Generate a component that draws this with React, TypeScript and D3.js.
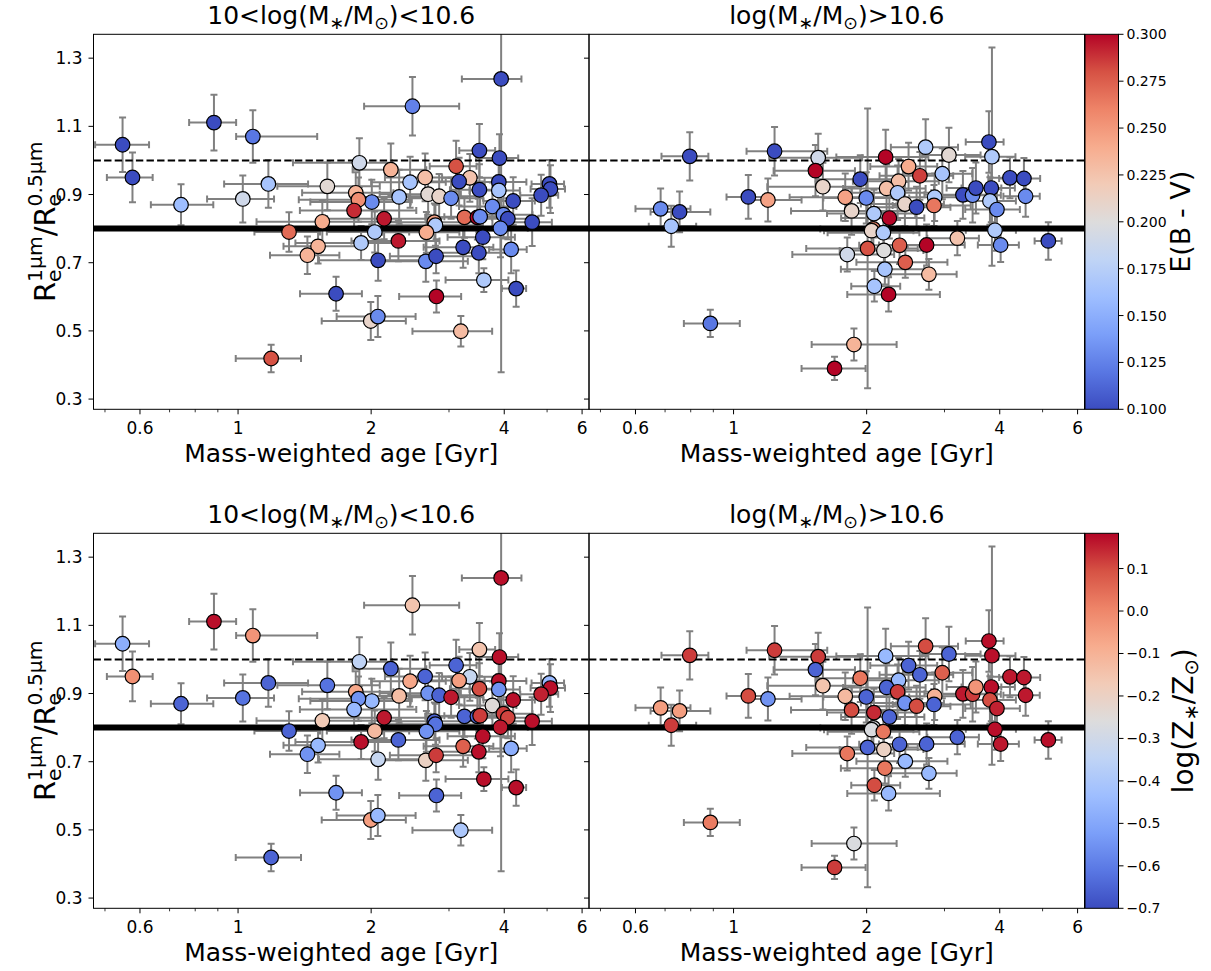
import React from 'react';
import * as d3 from 'd3';

// ---------- data: 10 < log M < 10.6 ----------
const leftAge = [0.548,0.577,0.743,0.882,1.080,1.025,1.171,1.592,1.551,1.304,1.517,1.435,1.666,1.188,2.480,3.936,3.515,3.902,1.881,2.216,3.113,3.344,3.162,2.649,2.450,3.889,3.515,3.889,5.062,5.089,4.848,4.191,3.761,2.691,2.850,3.033,2.314,2.007,1.846,1.872,1.830,2.140,3.251,3.478,3.528,3.984,4.076,4.626,2.780,2.795,2.038,2.667,3.922,1.898,2.305,3.578,3.229,3.504,4.147,2.074,2.659,2.805,3.597,4.256,2.810,1.996,2.071,3.191];
const leftAgeErrLo = [0.073,0.072,0.108,0.107,0.09,0.174,0.241,0.365,0.45,0.215,0.25,0.254,0.285,0.20,0.552,0.728,0.35,0.45,0.55,0.40,0.40,0.45,0.5,0.5,0.45,0.45,0.5,0.55,0.45,0.5,0.5,0.6,0.6,0.6,0.55,0.6,0.45,0.55,0.45,0.5,0.45,0.55,0.6,0.7,0.6,0.7,0.8,0.6,0.6,0.65,0.45,0.55,0.7,0.55,0.5,0.6,0.6,0.7,0.45,0.55,0.55,0.6,0.65,0.305,0.496,0.45,0.40,0.711];
const leftAgeErrHi = [0.081,0.064,0.136,0.108,0.43,0.181,0.269,0.50,0.78,0.228,0.37,0.26,0.24,0.20,0.683,0.439,0.30,0.40,0.35,0.45,0.35,0.50,0.45,0.6,0.5,0.6,0.4,0.45,0.4,0.4,0.45,0.5,0.5,0.5,0.6,0.55,0.5,0.45,0.4,0.6,0.7,0.65,0.5,0.6,0.6,0.65,0.7,0.5,0.7,0.75,0.4,0.5,0.6,0.45,0.55,0.65,0.55,0.6,0.35,0.6,0.65,0.7,0.49,0.227,0.386,0.40,0.45,0.565];
const leftRatio = [1.046,0.950,0.870,1.111,1.070,0.887,0.931,0.924,0.820,0.790,0.748,0.722,0.609,0.419,1.159,1.239,1.029,1.007,0.993,0.973,0.983,0.949,0.938,0.950,0.936,0.937,0.914,0.912,0.931,0.916,0.898,0.881,0.865,0.901,0.895,0.889,0.893,0.878,0.905,0.885,0.853,0.829,0.833,0.833,0.835,0.841,0.829,0.819,0.819,0.810,0.790,0.789,0.801,0.758,0.764,0.775,0.745,0.729,0.739,0.707,0.704,0.719,0.649,0.624,0.601,0.529,0.542,0.499];
const leftRatioErr = [0.08,0.073,0.06,0.082,0.077,0.069,0.07,0.07,0.062,0.058,0.05,0.055,0.05,0.04,0.086,0.86,0.078,0.07,0.072,0.077,0.075,0.07,0.07,0.07,0.075,0.07,0.075,0.08,0.07,0.07,0.06,0.07,0.07,0.06,0.065,0.06,0.08,0.065,0.06,0.065,0.055,0.06,0.06,0.065,0.06,0.07,0.06,0.07,0.055,0.06,0.06,0.06,0.085,0.05,0.06,0.065,0.06,0.06,0.07,0.06,0.06,0.05,0.035,0.053,0.047,0.056,0.06,0.045];
const leftEBV = [0.10,0.10,0.16,0.10,0.12,0.19,0.165,0.205,0.24,0.27,0.235,0.235,0.10,0.28,0.125,0.10,0.10,0.10,0.19,0.235,0.28,0.225,0.10,0.228,0.165,0.10,0.10,0.165,0.10,0.10,0.10,0.10,0.13,0.205,0.21,0.13,0.165,0.13,0.235,0.255,0.29,0.295,0.27,0.30,0.13,0.13,0.10,0.10,0.245,0.17,0.17,0.24,0.13,0.17,0.295,0.10,0.10,0.10,0.13,0.10,0.13,0.10,0.17,0.10,0.30,0.21,0.13,0.23];
const leftLogZ = [-0.48,-0.02,-0.65,0.17,-0.03,-0.62,-0.65,-0.62,-0.17,-0.65,-0.45,-0.55,-0.55,-0.65,-0.15,0.17,-0.15,0.17,-0.35,-0.65,-0.65,-0.33,-0.05,-0.65,-0.07,0.17,0.10,-0.55,-0.45,0.17,0.15,0.17,-0.25,-0.55,-0.65,0.16,-0.13,-0.45,-0.07,-0.55,-0.45,0.16,-0.65,-0.65,0.12,0.12,0.11,0.17,-0.65,-0.62,-0.12,-0.55,0.16,0.17,-0.65,0.17,0.07,0.17,-0.48,-0.33,-0.2,0.12,0.17,0.17,-0.65,-0.05,-0.45,-0.4];

// ---------- data: log M > 10.6 ----------
const rightAge = [0.796,1.238,1.554,1.532,1.592,1.080,1.196,0.684,0.755,0.723,0.886,1.692,1.872,2.719,3.070,3.781,3.841,2.208,2.488,2.639,2.966,1.935,2.362,2.219,2.350,1.789,1.996,2.850,3.302,3.473,3.533,3.828,4.219,4.537,4.577,3.801,3.942,1.849,2.441,2.594,2.840,2.077,2.251,2.071,2.052,2.182,3.902,3.208,4.019,5.152,2.010,2.374,2.733,2.188,1.808,2.446,2.199,2.766,2.082,2.242];
const rightAgeErrLo = [0.109,0.168,0.35,0.30,0.4,0.116,0.132,0.084,0.106,0.08,0.114,0.267,0.37,0.45,0.4,0.43,0.5,0.5,0.45,0.5,0.55,0.4,0.5,0.45,0.5,0.45,0.4,0.55,0.6,0.6,0.5,0.55,0.45,0.55,0.5,0.5,0.6,0.5,0.5,0.55,0.55,0.45,0.5,0.5,0.45,0.55,0.55,0.465,0.45,0.355,0.55,0.45,0.6,0.45,0.45,0.55,0.45,0.5,0.236,0.434];
const rightAgeErrHi = [0.081,0.391,0.40,0.35,0.35,0.132,0.229,0.115,0.131,0.10,0.147,0.297,0.466,0.5,0.55,0.30,0.5,0.55,0.4,0.5,0.5,0.45,0.55,0.5,0.45,0.55,0.5,0.6,0.5,0.55,0.5,0.5,0.35,0.4,0.35,0.55,0.5,0.6,0.55,0.5,0.6,0.5,0.45,0.55,0.5,0.45,0.45,0.381,0.4,0.369,0.6,0.45,0.6,0.5,0.5,0.6,0.5,0.43,0.3,0.687];
const rightRatio = [1.012,1.027,1.008,0.970,0.923,0.893,0.884,0.858,0.849,0.807,0.522,0.390,0.460,1.039,1.016,1.054,1.011,1.010,0.982,0.955,0.961,0.945,0.939,0.918,0.905,0.892,0.890,0.892,0.899,0.898,0.919,0.919,0.949,0.947,0.895,0.881,0.856,0.852,0.872,0.863,0.868,0.844,0.831,0.799,0.794,0.788,0.795,0.772,0.752,0.764,0.742,0.751,0.752,0.736,0.724,0.701,0.681,0.666,0.631,0.607];
const rightRatioErr = [0.071,0.071,0.07,0.075,0.07,0.064,0.063,0.06,0.06,0.06,0.04,0.034,0.047,0.082,0.08,0.09,0.32,0.08,0.07,0.07,0.075,0.07,0.065,0.07,0.08,0.07,0.075,0.07,0.07,0.08,0.075,0.1,0.06,0.06,0.06,0.07,0.06,0.07,0.065,0.06,0.06,0.07,0.06,0.06,0.055,0.06,0.06,0.05,0.05,0.055,0.41,0.055,0.06,0.06,0.05,0.045,0.045,0.045,0.045,0.05];
const rightEBV = [0.10,0.10,0.19,0.30,0.21,0.10,0.245,0.13,0.10,0.165,0.12,0.30,0.235,0.17,0.205,0.10,0.17,0.30,0.24,0.285,0.165,0.10,0.228,0.228,0.17,0.245,0.13,0.17,0.10,0.13,0.10,0.10,0.10,0.10,0.13,0.17,0.13,0.21,0.21,0.10,0.265,0.17,0.30,0.26,0.21,0.17,0.17,0.225,0.13,0.10,0.28,0.275,0.30,0.20,0.19,0.275,0.165,0.23,0.165,0.30];
const rightLogZ = [0.12,0.12,0.12,-0.65,-0.15,0.10,-0.55,-0.05,-0.05,0.12,0.02,0.12,-0.27,0.10,-0.65,0.17,0.17,-0.45,-0.65,-0.65,0.07,0.03,-0.45,-0.65,0.12,-0.12,-0.65,-0.1,0.16,0.12,-0.03,0.17,0.16,0.16,0.16,0.10,0.15,0.10,-0.55,0.10,-0.65,0.14,-0.65,-0.27,-0.27,0.03,0.17,-0.65,0.16,0.17,-0.65,-0.65,-0.65,-0.2,0.03,-0.45,0.03,-0.45,0.10,-0.45];

// ---------- ticks / references ----------
const xTicksLabeled = [0.6, 1, 2, 4, 6];
const xTicksMinor = [0.5, 0.7, 0.8, 0.9, 3, 5];
const yTicks = [0.3, 0.5, 0.7, 0.9, 1.1, 1.3];
const ebvTicks = [0.1, 0.125, 0.15, 0.175, 0.2, 0.225, 0.25, 0.275, 0.3];
const zTicks = [-0.7, -0.6, -0.5, -0.4, -0.3, -0.2, -0.1, 0.0, 0.1];
const refDashed = 1.0;
const refThick = 0.8;
const coolwarmStops = ['#3b4cc0','#5977e3','#7b9ff9','#9ebeff','#c0d4f5','#dddcdc','#f2cbb7','#f7ac8e','#ee8468','#d65244','#b40426'];

const X_DOMAIN: [number, number] = [0.471, 6.22];
const Y_DOMAIN: [number, number] = [0.27, 1.37];
const FONT = "'DejaVu Sans', sans-serif";

const cw = d3.scaleLinear<string>()
  .domain(d3.range(11).map((i) => i / 10))
  .range(coolwarmStops)
  .interpolate(d3.interpolateRgb)
  .clamp(true);

const COLS = [
  { x0: 93.5, x1: 589, age: leftAge, lo: leftAgeErrLo, hi: leftAgeErrHi, r: leftRatio, re: leftRatioErr, ebv: leftEBV, z: leftLogZ, yLabels: true, title: 'lo' },
  { x0: 589, x1: 1084.5, age: rightAge, lo: rightAgeErrLo, hi: rightAgeErrHi, r: rightRatio, re: rightRatioErr, ebv: rightEBV, z: rightLogZ, yLabels: false, title: 'hi' },
];

const ROWS = [
  { y0: 34.3, y1: 409.3, field: 'ebv', vmin: 0.1, vmax: 0.3, ticks: ebvTicks, fmt: (v: number) => v.toFixed(3) },
  { y0: 533.3, y1: 908.3, field: 'z', vmin: -0.7, vmax: 0.183, ticks: zTicks, fmt: (v: number) => (v < -1e-9 ? '\u2212' : '') + Math.abs(v).toFixed(1) },
];

function Title({ x, y, hi }: { x: number; y: number; hi: boolean }) {
  const F = 25, S = 17.5, d = 5;
  return (
    <text x={x} y={y} textAnchor="middle" fontFamily={FONT} fontSize={F}>
      {hi ? 'log(M' : '10<log(M'}
      <tspan fontSize={S} dy={d}>{'\u2217'}</tspan>
      <tspan dy={-d}>/M</tspan>
      <tspan fontSize={S} dy={d}>{'\u2299'}</tspan>
      <tspan dy={-d}>{hi ? ')>10.6' : ')<10.6'}</tspan>
    </text>
  );
}

function YLabel({ cx, cy }: { cx: number; cy: number }) {
  const F = 29, S = 20.3, eW = 0.615 * S;
  return (
    <text transform={`translate(${cx},${cy}) rotate(-90)`} textAnchor="middle" fontFamily={FONT} fontSize={F}>
      R
      <tspan fontSize={S} dy={6}>e</tspan>
      <tspan fontSize={S} dx={-eW} dy={-19}>1μm</tspan>
      <tspan fontSize={F} dy={13}>/R</tspan>
      <tspan fontSize={S} dy={6}>e</tspan>
      <tspan fontSize={S} dx={-eW} dy={-19}>0.5μm</tspan>
    </text>
  );
}

export default function App() {
  const W = 1211, H = 971;
  return (
    <svg width={W} height={H} viewBox={`0 0 ${W} ${H}`} style={{ position: 'absolute', left: 0, top: 0, background: '#fff' }}>
      <defs>
        {ROWS.map((row, ri) => (
          <linearGradient key={ri} id={`cbar${ri}`} x1="0" y1="1" x2="0" y2="0">
            {coolwarmStops.map((c, i) => (
              <stop key={i} offset={`${i * 10}%`} stopColor={c} />
            ))}
          </linearGradient>
        ))}
        {ROWS.map((row, ri) => COLS.map((col, ci) => (
          <clipPath key={`${ri}-${ci}`} id={`clip${ri}${ci}`}>
            <rect x={col.x0} y={row.y0} width={col.x1 - col.x0} height={row.y1 - row.y0} />
          </clipPath>
        )))}
      </defs>
      <rect x={0} y={0} width={W} height={H} fill="#fff" />
      {ROWS.map((row, ri) => {
        const y = d3.scaleLinear().domain(Y_DOMAIN).range([row.y1, row.y0]);
        const cnorm = d3.scaleLinear().domain([row.vmin, row.vmax]).range([0, 1]);
        const cbar = d3.scaleLinear().domain([row.vmin, row.vmax]).range([row.y1, row.y0]);
        const cbx0 = 1085, cbx1 = 1118.5;
        return (
          <g key={ri}>
            {COLS.map((col, ci) => {
              const x = d3.scaleLog().domain(X_DOMAIN).range([col.x0, col.x1]);
              const cvals = row.field === 'ebv' ? col.ebv : col.z;
              const cap = 3.5;
              return (
                <g key={ci}>
                  <g clipPath={`url(#clip${ri}${ci})`}>
                    <g stroke="#808080" strokeWidth={2} fill="none">
                      {col.age.map((a, i) => {
                        const cx = x(a), cy = y(col.r[i]);
                        const xl = x(a - col.lo[i]), xr = x(a + col.hi[i]);
                        const yt = y(col.r[i] + col.re[i]), yb = y(col.r[i] - col.re[i]);
                        return (
                          <g key={i}>
                            <line x1={xl} x2={xr} y1={cy} y2={cy} />
                            <line x1={cx} x2={cx} y1={yt} y2={yb} />
                            <line x1={xl} x2={xl} y1={cy - cap} y2={cy + cap} />
                            <line x1={xr} x2={xr} y1={cy - cap} y2={cy + cap} />
                            <line x1={cx - cap} x2={cx + cap} y1={yt} y2={yt} />
                            <line x1={cx - cap} x2={cx + cap} y1={yb} y2={yb} />
                          </g>
                        );
                      })}
                    </g>
                    <line x1={col.x0} x2={col.x1} y1={y(refDashed)} y2={y(refDashed)} stroke="#000" strokeWidth={2} strokeDasharray="7.4 3.2" />
                    <line x1={col.x0} x2={col.x1} y1={y(refThick)} y2={y(refThick)} stroke="#000" strokeWidth={6} />
                    {col.age.map((a, i) => (
                      <circle key={i} cx={x(a)} cy={y(col.r[i])} r={7.3} fill={cw(cnorm(cvals[i]))} stroke="#000" strokeWidth={1.2} />
                    ))}
                  </g>
                  <rect x={col.x0} y={row.y0} width={col.x1 - col.x0} height={row.y1 - row.y0} fill="none" stroke="#000" strokeWidth={1} />
                  {xTicksLabeled.map((t) => (
                    <g key={`xl${t}`}>
                      <line x1={x(t)} x2={x(t)} y1={row.y1} y2={row.y1 + 5} stroke="#000" strokeWidth={1} />
                      <text x={x(t)} y={row.y1 + 25} textAnchor="middle" fontFamily={FONT} fontSize={17}>{String(t)}</text>
                    </g>
                  ))}
                  {xTicksMinor.map((t) => (
                    <line key={`xm${t}`} x1={x(t)} x2={x(t)} y1={row.y1} y2={row.y1 + 3} stroke="#000" strokeWidth={0.8} />
                  ))}
                  {yTicks.map((t) => (
                    <g key={`y${t}`}>
                      <line x1={col.x0 - 5} x2={col.x0} y1={y(t)} y2={y(t)} stroke="#000" strokeWidth={1} />
                      {col.yLabels && (
                        <text x={col.x0 - 11} y={y(t) + 6} textAnchor="end" fontFamily={FONT} fontSize={17}>{t.toFixed(1)}</text>
                      )}
                    </g>
                  ))}
                  <Title x={(col.x0 + col.x1) / 2} y={row.y0 - 10} hi={col.title === 'hi'} />
                  <text x={(col.x0 + col.x1) / 2} y={row.y1 + 53} textAnchor="middle" fontFamily={FONT} fontSize={25}>Mass-weighted age [Gyr]</text>
                </g>
              );
            })}
            <YLabel cx={55} cy={(row.y0 + row.y1) / 2} />
            <rect x={cbx0} y={row.y0} width={cbx1 - cbx0} height={row.y1 - row.y0} fill={`url(#cbar${ri})`} stroke="#000" strokeWidth={1} />
            {row.ticks.map((t) => (
              <g key={`c${t}`}>
                <line x1={cbx1} x2={cbx1 + 5} y1={cbar(t)} y2={cbar(t)} stroke="#000" strokeWidth={1} />
                <text x={cbx1 + 8} y={cbar(t) + 5} fontFamily={FONT} fontSize={14}>{row.fmt(t)}</text>
              </g>
            ))}
            {row.field === 'ebv' ? (
              <text transform={`translate(1190,${(row.y0 + row.y1) / 2}) rotate(-90)`} textAnchor="middle" fontFamily={FONT} fontSize={27}>E(B - V)</text>
            ) : (
              <text transform={`translate(1193,${(row.y0 + row.y1) / 2}) rotate(-90)`} textAnchor="middle" fontFamily={FONT} fontSize={28}>
                log(Z<tspan fontSize={19.6} dy={5}>{'\u2217'}</tspan><tspan dy={-5}>/Z</tspan><tspan fontSize={19.6} dy={5}>{'\u2299'}</tspan><tspan dy={-5}>)</tspan>
              </text>
            )}
          </g>
        );
      })}
    </svg>
  );
}
